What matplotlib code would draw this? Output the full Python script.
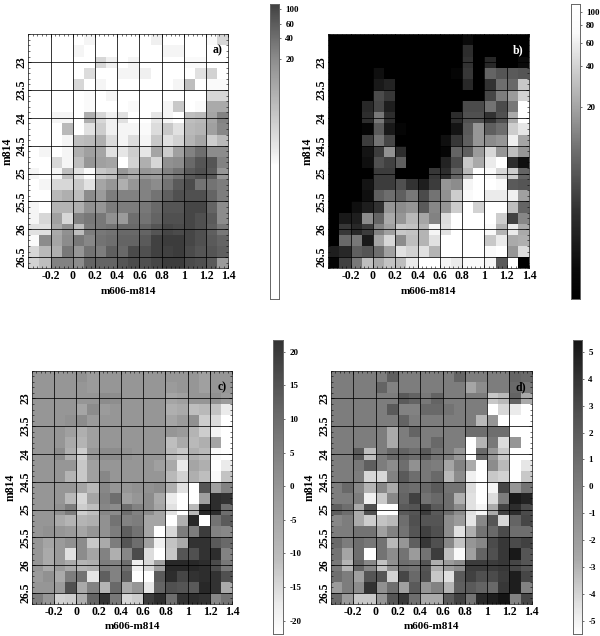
import numpy as np
import matplotlib
matplotlib.use('Agg')
import matplotlib.pyplot as plt
from matplotlib.ticker import MultipleLocator

plt.rcParams['font.family'] = ['Liberation Serif', 'DejaVu Serif']
plt.rcParams['font.weight'] = 'bold'

# colour bins, m606-m814 from -0.4 to 1.4, m814 from 22.5 to 26.7
x_edges = np.arange(-0.4, 1.41, 0.1)
y_edges = np.arange(22.5, 26.71, 0.2)
x_ticks = [-0.2, 0, 0.2, 0.4, 0.6, 0.8, 1, 1.2, 1.4]
x_labels = ['-0.2', '0', '0.2', '0.4', '0.6', '0.8', '1', '1.2', '1.4']
y_ticks = [23, 23.5, 24, 24.5, 25, 25.5, 26, 26.5]
y_labels = ['23', '23.5', '24', '24.5', '25', '25.5', '26', '26.5']

# cell shades, 0 black to 255 white
shade_a = [
    [255,255,255,255,255,245,255,255,255,255,255,240,255,255,255,255,250,215],
    [255,255,255,255,245,255,255,255,255,255,255,255,245,245,255,255,255,255],
    [255,255,255,255,255,255,215,240,255,245,255,255,255,255,250,250,255,255],
    [255,255,255,255,255,220,255,255,245,245,240,255,255,255,255,225,210,255],
    [255,255,255,255,215,255,245,255,255,255,255,255,255,245,190,255,250,250],
    [255,255,255,255,255,250,255,245,255,255,255,255,255,255,255,255,215,215],
    [255,255,255,255,255,250,255,255,255,250,255,255,245,200,255,250,170,170],
    [255,255,245,245,255,175,215,240,225,255,255,230,245,255,190,185,165,130],
    [255,255,255,185,255,225,205,240,245,245,250,220,200,225,185,180,160,135],
    [255,255,255,245,190,185,175,220,245,220,245,200,225,210,180,165,205,185],
    [255,245,255,245,175,160,165,225,230,205,230,165,205,160,130,110,140,140],
    [255,255,215,245,190,150,160,165,255,210,175,215,145,140,105,85,85,130],
    [245,255,245,190,225,250,200,190,150,170,150,155,130,115,90,80,90,150],
    [255,245,215,215,200,225,165,150,175,150,130,140,115,90,75,115,115,125],
    [255,255,185,175,190,140,155,125,130,130,130,115,95,80,80,80,100,125],
    [245,255,180,180,175,145,150,125,125,125,120,105,85,85,70,70,100,140],
    [245,215,160,215,130,120,120,145,155,110,115,100,80,80,70,80,90,140],
    [225,225,170,145,190,125,120,115,105,105,100,85,70,75,70,80,95,120],
    [250,140,165,140,120,135,115,110,100,100,90,65,60,60,70,80,90,100],
    [215,185,175,120,150,115,125,95,105,75,80,65,65,60,75,85,85,95],
    [210,190,130,130,140,100,100,100,85,75,80,70,60,60,75,80,90,155],
]
shade_b = [
    [0,0,0,0,0,0,0,0,0,0,0,0,10,0,0,0,0,0],
    [0,0,0,0,0,0,0,0,0,0,0,0,45,0,0,0,0,0],
    [0,0,0,0,0,0,0,0,0,0,0,0,50,0,40,0,0,10],
    [0,0,0,0,15,0,0,0,0,0,0,5,55,0,100,85,90,85],
    [0,0,0,0,25,35,0,0,0,0,0,0,40,0,50,110,105,200],
    [0,0,0,0,75,55,0,0,0,0,0,0,0,0,70,125,155,210],
    [0,0,0,40,70,30,0,0,0,0,0,0,75,75,115,75,120,255],
    [0,0,0,45,120,45,0,0,0,0,0,45,80,80,50,80,170,255],
    [0,0,0,5,90,25,5,0,0,0,0,20,90,150,95,110,205,230],
    [0,0,0,60,115,70,0,0,0,0,15,55,95,150,140,150,240,165],
    [0,0,0,20,60,145,45,0,0,0,5,100,95,155,215,150,190,150],
    [0,0,0,15,80,65,95,0,0,0,35,75,200,170,235,255,45,15],
    [0,0,0,0,60,60,0,0,0,55,45,100,185,255,250,215,205,100],
    [0,0,0,20,60,60,80,50,30,60,150,140,245,255,255,250,90,85],
    [0,0,0,15,95,110,95,120,75,115,145,205,250,255,235,235,240,160],
    [0,0,15,30,50,150,140,150,90,135,150,205,255,210,255,255,190,100],
    [0,25,30,140,100,170,150,185,165,130,220,255,255,255,255,205,65,135],
    [0,55,40,60,130,160,200,195,180,245,225,255,255,255,250,180,235,170],
    [0,105,120,25,165,215,140,190,180,225,255,255,255,255,200,235,170,175],
    [30,40,95,85,110,160,225,210,225,180,255,255,255,255,250,255,150,220],
    [5,65,120,190,170,195,190,235,255,255,245,235,250,250,245,90,255,0],
]
shade_c = [
    [150,150,150,150,145,155,150,150,150,150,150,150,150,150,150,160,150,150],
    [150,150,150,150,150,155,150,150,150,150,150,150,155,150,150,160,150,150],
    [150,150,150,150,150,150,140,142,150,150,150,150,165,160,150,150,145,155],
    [150,150,150,150,165,140,155,150,150,150,150,150,175,170,190,185,195,235],
    [150,150,150,145,140,155,150,150,150,150,150,150,165,155,145,205,220,255],
    [150,150,150,160,175,160,150,150,150,150,150,150,150,155,180,205,245,255],
    [150,150,150,170,180,160,150,150,150,150,150,150,190,170,185,175,165,255],
    [150,150,140,175,205,150,140,140,145,150,150,150,185,200,175,185,250,255],
    [150,150,150,150,200,160,150,150,150,150,150,160,170,235,165,175,255,235],
    [150,150,150,180,200,160,135,150,150,150,150,150,185,210,175,190,250,195],
    [150,150,150,150,165,185,135,150,150,145,145,140,175,225,255,85,160,130],
    [150,150,150,185,215,165,130,110,160,150,140,170,235,255,255,160,45,50],
    [150,150,145,125,205,190,135,140,110,130,140,165,225,255,185,40,45,110],
    [150,150,170,180,180,175,145,115,130,125,165,165,255,175,40,255,115,90],
    [150,145,150,155,165,150,145,125,95,115,165,255,215,125,125,60,130,135],
    [150,165,155,145,140,200,170,125,85,110,160,240,195,170,50,50,90,105],
    [150,170,155,225,140,165,130,175,135,75,220,255,200,85,80,50,45,130],
    [150,170,155,170,180,175,125,130,110,240,215,160,40,40,40,45,75,120],
    [155,145,170,125,115,230,95,130,95,255,255,90,45,70,50,45,50,80],
    [150,150,155,80,170,130,180,105,170,150,230,100,80,85,90,40,50,170],
    [125,150,210,205,175,100,50,120,215,205,60,45,110,50,45,50,135,115],
]
shade_d = [
    [125,125,125,125,125,95,125,125,125,125,125,100,125,125,125,125,100,105],
    [125,125,125,125,100,130,125,125,125,125,125,125,165,140,125,125,105,120],
    [125,125,125,125,125,125,90,100,120,100,125,125,125,125,200,185,100,170],
    [125,125,125,125,125,90,130,130,105,105,115,125,125,125,255,215,235,255],
    [125,125,125,125,125,125,100,125,125,125,125,125,125,185,150,255,255,255],
    [125,125,125,125,125,170,125,100,125,125,125,125,110,110,110,110,255,255],
    [125,125,125,125,125,170,125,125,125,105,125,125,255,180,120,220,150,255],
    [125,125,90,190,125,105,100,110,90,115,125,150,255,105,150,200,255,255],
    [125,125,120,95,125,140,110,145,120,125,165,130,170,255,140,185,255,230],
    [125,125,125,215,215,130,90,110,120,105,185,140,240,255,200,210,255,200],
    [125,105,135,180,135,170,105,110,105,90,115,115,220,255,245,70,150,115],
    [125,125,125,240,200,135,100,65,115,105,110,175,225,255,220,125,25,35],
    [95,110,170,80,255,255,90,85,60,90,110,140,225,245,170,65,45,75],
    [135,125,170,205,195,185,110,80,85,85,140,155,230,135,85,215,100,70],
    [125,125,115,115,160,130,115,85,65,80,140,225,175,115,105,75,110,110],
    [105,125,110,120,115,185,150,95,55,80,135,195,150,135,75,55,75,65],
    [115,165,110,255,115,140,115,155,115,60,190,250,160,100,80,55,25,85],
    [120,180,100,135,195,145,110,115,85,175,155,140,60,60,60,55,70,85],
    [110,125,160,85,85,210,70,105,80,200,225,90,65,80,75,60,30,70],
    [155,125,140,50,145,110,160,90,150,130,180,95,90,100,105,55,30,130],
    [105,155,200,200,150,85,55,110,170,170,90,65,115,40,30,20,130,70],
]

# colour bars: labels and where they sit along the bar (0 bottom, 1 top)
bar_a_labels = ['100', '60', '40', '20']
bar_a_pos = [0.98, 0.93, 0.885, 0.811]
bar_b_labels = ['100', '80', '60', '40', '20']
bar_b_pos = [0.972, 0.927, 0.868, 0.788, 0.651]
bar_c_values = [20, 15, 10, 5, 0, -5, -10, -15, -20]
bar_d_values = [5, 4, 3, 2, 1, 0, -1, -2, -3, -4, -5]

# gradient stops of each bar, fraction along the bar and shade
bar_a_stops = ([0, 0.45, 0.5, 0.6, 0.7, 0.8, 0.9, 1], [255, 255, 235, 205, 175, 145, 105, 65])
bar_b_stops = ([0, 0.1, 0.3, 0.5, 0.65, 0.8, 0.9, 1], [0, 10, 50, 110, 165, 215, 250, 255])
bar_c_stops = ([0, 0.1, 0.25, 0.5, 0.75, 1], [255, 235, 190, 150, 105, 50])
bar_d_stops = ([0, 0.1, 0.25, 0.5, 0.75, 1], [255, 225, 170, 125, 80, 20])

W, H = 600, 636


def px_axes(fig, left, top, right, bottom):
    return fig.add_axes([left / W, 1 - bottom / H, (right - left) / W, (bottom - top) / H])


def draw_panel(fig, box, shade, tag, ylabel_gap):
    ax = px_axes(fig, *box)
    ax.pcolormesh(x_edges, y_edges, np.array(shade), cmap='gray', vmin=0, vmax=255)
    ax.set_xlim(-0.4, 1.4)
    ax.set_ylim(26.7, 22.5)
    ax.grid(True, which='major', color='black', linewidth=0.55)
    ax.set_axisbelow(False)
    ax.set_xticks(x_ticks, x_labels, fontsize=8.5)
    ax.set_yticks(y_ticks, y_labels, fontsize=8.5, rotation=90, va='center')
    ax.xaxis.set_minor_locator(MultipleLocator(0.04))
    ax.yaxis.set_minor_locator(MultipleLocator(0.1))
    ax.tick_params(which='major', direction='in', length=2.5, width=0.5, top=True, right=True)
    ax.tick_params(which='minor', direction='in', length=1.2, width=0.4, top=True, right=True)
    ax.tick_params(axis='x', which='major', pad=1.5)
    ax.tick_params(axis='y', which='major', pad=0.5)
    ax.set_xlabel('m606-m814', fontsize=8, fontweight='bold', labelpad=3)
    ax.set_ylabel('m814', fontsize=8.5, fontweight='bold')
    ax.yaxis.set_label_coords(-ylabel_gap / (box[2] - box[0]), 0.5)
    for s in ax.spines.values():
        s.set_linewidth(0.6)
        s.set_color('#333333')
    ax.text(0.97, 0.93, tag, transform=ax.transAxes, ha='right', va='center', fontsize=8.5, fontweight='bold')
    return ax


def draw_bar(fig, box, stops, tick_pos, tick_labels):
    ax = px_axes(fig, *box)
    frac = np.linspace(0, 1, 256)
    grad = np.interp(frac, stops[0], stops[1]).reshape(-1, 1)
    ax.imshow(grad, origin='lower', aspect='auto', extent=[0, 1, 0, 1], cmap='gray', vmin=0, vmax=255)
    ax.set_xticks([])
    ax.yaxis.tick_right()
    ax.set_yticks(tick_pos, tick_labels, fontsize=6.5)
    ax.tick_params(axis='y', direction='out', length=1.5, width=0.4, pad=3)
    for s in ax.spines.values():
        s.set_linewidth(0.7)
        s.set_color('#666666')
    return ax


fig = plt.figure(figsize=(6, 6.36), dpi=100)

draw_panel(fig, (28.3, 34.3, 228.3, 268.3), shade_a, 'a)', 15)
draw_panel(fig, (328.3, 34.3, 529, 268.3), shade_b, 'b)', 15).texts[0].set_color('white')
draw_panel(fig, (31.7, 370.7, 232.3, 604), shade_c, 'c)', 15)
draw_panel(fig, (331, 370.7, 531.7, 604), shade_d, 'd)', 15)

draw_bar(fig, (269.5, 3.5, 279, 299.5), bar_a_stops, bar_a_pos, bar_a_labels)
draw_bar(fig, (570.5, 3.5, 580, 299.5), bar_b_stops, bar_b_pos, bar_b_labels)

# linear scales on the lower two bars
c_pos = [(v + 21.97) / (21.97 + 21.8) for v in bar_c_values]
d_pos = [(v + 5.49) / (5.49 + 5.46) for v in bar_d_values]
draw_bar(fig, (273, 339.5, 283, 634), bar_c_stops, c_pos, [str(v) for v in bar_c_values])
draw_bar(fig, (572.7, 339.5, 582, 634), bar_d_stops, d_pos, [str(v) for v in bar_d_values])

fig.savefig('out.png', dpi=100)
